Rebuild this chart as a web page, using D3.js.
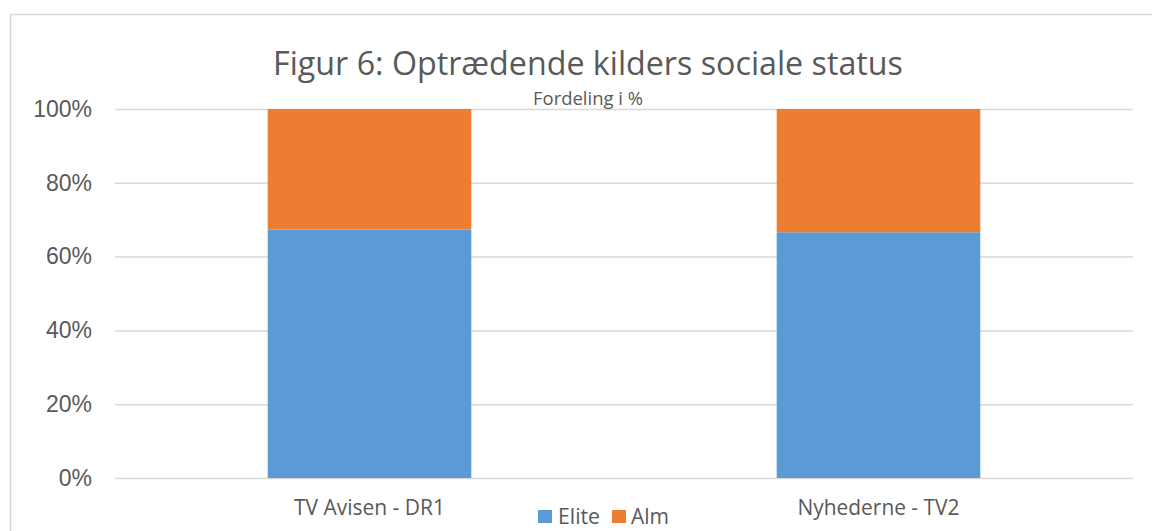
<!DOCTYPE html>
<html>
<head>
<meta charset="utf-8">
<script src="https://cdn.jsdelivr.net/npm/d3@7"></script>
<style>
  html, body { margin: 0; padding: 0; background: #fff; }
  svg { display: block; }
</style>
</head>
<body>
<svg id="chart" width="1152" height="531"></svg>
<script>
const categories = ["TV Avisen - DR1", "Nyhederne - TV2"];
const seriesNames = ["Elite", "Alm"];
const eliteValues = [67.3, 66.6];
const almValues = [32.7, 33.4];
const tickValues = [0, 20, 40, 60, 80, 100];
const tickLabels = ["0%", "20%", "40%", "60%", "80%", "100%"];
const titleText = "Figur 6: Optrædende kilders sociale status";
const subtitleText = "Fordeling i %";

const colors = { Elite: "#5B9BD5", Alm: "#ED7D31" };
const textColor = "#595959";
const gridColor = "#D9D9D9";

const svg = d3.select("#chart");

// chart border
svg.append("rect")
  .attr("x", 10.5).attr("y", 14.5)
  .attr("width", 1200).attr("height", 600)
  .attr("fill", "none").attr("stroke", gridColor).attr("stroke-width", 1.5);

const plot = { left: 115, right: 1133, top: 109, bottom: 478 };

const x = d3.scaleBand()
  .domain(categories)
  .range([plot.left, plot.right])
  .paddingInner(0.6)
  .paddingOuter(0.3);

const y = d3.scaleLinear()
  .domain([0, 100])
  .range([plot.bottom, plot.top]);

// gridlines + y labels
const yAxis = d3.axisLeft(y)
  .tickValues(tickValues)
  .tickFormat((d, i) => tickLabels[i])
  .tickSize(-(plot.right - plot.left))
  .tickPadding(23);

const yg = svg.append("g")
  .attr("transform", `translate(${plot.left},0)`)
  .call(yAxis);
yg.select(".domain").remove();
yg.selectAll(".tick line").attr("stroke", gridColor).attr("stroke-width", 1.5);
yg.selectAll(".tick text")
  .attr("fill", textColor)
  .style("font-family", "'Liberation Sans', Arial, sans-serif")
  .style("font-size", "23px");

// stacked data
const rows = categories.map((c, i) => ({ cat: c, Elite: eliteValues[i], Alm: almValues[i] }));
const stack = d3.stack().keys(seriesNames)(rows);

svg.append("g").selectAll("g")
  .data(stack)
  .join("g")
  .attr("fill", d => colors[d.key])
  .selectAll("rect")
  .data(d => d)
  .join("rect")
  .attr("x", d => x(d.data.cat))
  .attr("width", x.bandwidth())
  .attr("y", d => y(d[1]))
  .attr("height", d => y(d[0]) - y(d[1]));

// helper to fit text width
function fit(sel, targetWidth) {
  const node = sel.node();
  const fs = parseFloat(sel.style("font-size"));
  const w = node.getComputedTextLength();
  if (w > 0) sel.style("font-size", (fs * targetWidth / w).toFixed(2) + "px");
  return sel;
}

const calibriLike = "'Open Sans', 'Noto Sans', sans-serif";

// title
const t = svg.append("text")
  .attr("x", 588).attr("y", 75)
  .attr("text-anchor", "middle")
  .attr("fill", textColor)
  .style("font-family", calibriLike)
  .style("font-size", "28px")
  .text(titleText);
fit(t, 630);

const st = svg.append("text")
  .attr("x", 588).attr("y", 105)
  .attr("text-anchor", "middle")
  .attr("fill", textColor)
  .style("font-family", calibriLike)
  .style("font-size", "15px")
  .text(subtitleText);
fit(st, 110);

// category labels
const catWidths = [151, 162];
svg.append("g").selectAll("text")
  .data(categories)
  .join("text")
  .attr("x", d => x(d) + x.bandwidth() / 2)
  .attr("y", 515)
  .attr("text-anchor", "middle")
  .attr("fill", textColor)
  .style("font-family", calibriLike)
  .style("font-size", "17px")
  .text(d => d)
  .each(function(d, i) { fit(d3.select(this), catWidths[i]); });

// legend
const legendItems = [
  { name: "Elite", sx: 538, tx: 558, tw: 42 },
  { name: "Alm", sx: 612, tx: 631, tw: 38 }
];
const lg = svg.append("g");
legendItems.forEach(it => {
  lg.append("rect")
    .attr("x", it.sx).attr("y", 510)
    .attr("width", 14).attr("height", 13)
    .attr("fill", colors[it.name]);
  const tx = lg.append("text")
    .attr("x", it.tx).attr("y", 524)
    .attr("fill", textColor)
    .style("font-family", calibriLike)
    .style("font-size", "18px")
    .text(it.name);
  fit(tx, it.tw);
});
</script>
</body>
</html>
